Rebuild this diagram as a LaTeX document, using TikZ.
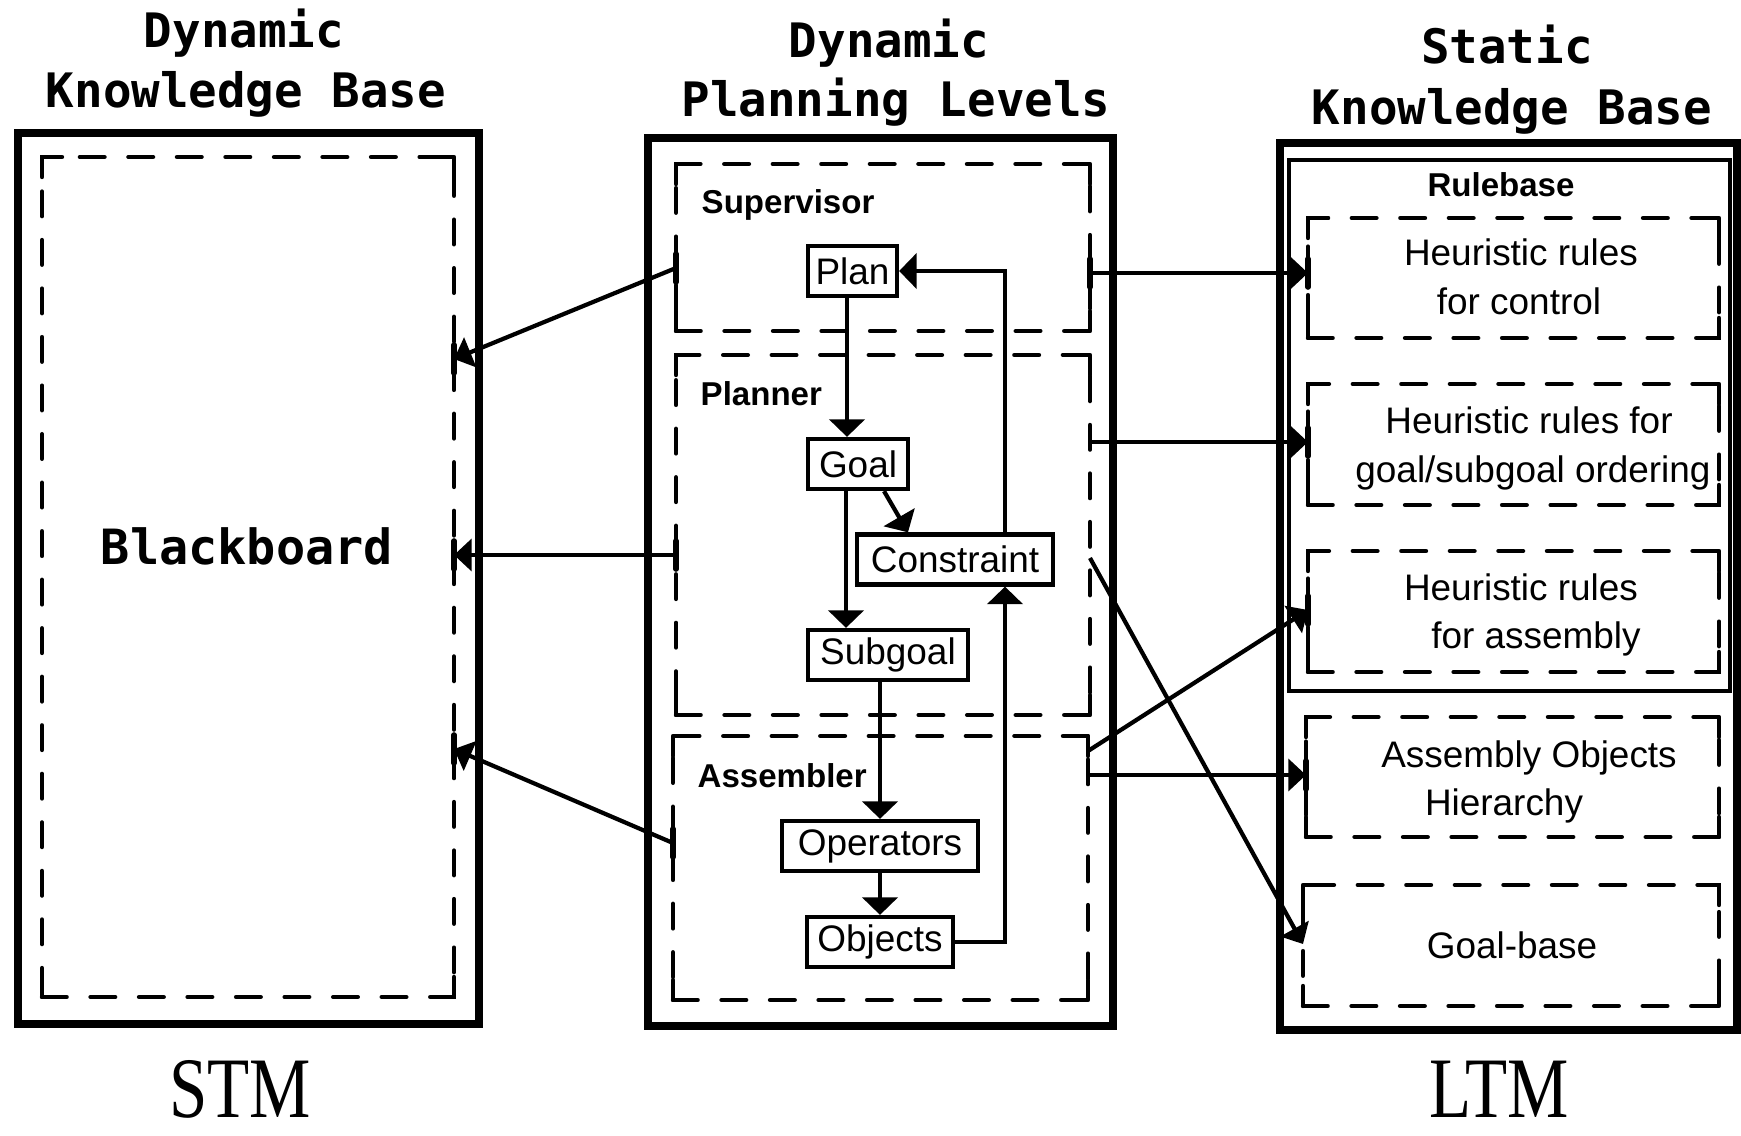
\documentclass[tikz,border=0pt]{standalone}
\usepackage{fontspec}
\setmainfont{Liberation Sans}
\newfontfamily\plotterfont{DejaVu Sans Mono}
\newfontfamily\romanfont{Liberation Serif}
\usetikzlibrary{arrows.meta,fit,calc}

\tikzset{
  outerbox/.style={draw, line width=2pt, inner sep=0pt, outer sep=0pt},
  rulebox/.style={draw, line width=1.1pt, inner sep=0pt, outer sep=0pt},
  dframe/.style={draw, line width=1.25pt, dash pattern=on 7pt off 6.8pt, line cap=round, inner sep=0pt, outer sep=0pt},
  cornerpiece/.style={line width=1.25pt, line cap=round, line join=round},
  ibox/.style={draw, line width=1.2pt, inner sep=0pt, minimum height=0.5cm, font=\fontsize{10.5pt}{12pt}\selectfont},
  titletext/.style={font=\plotterfont\bfseries\fontsize{13.5pt}{16pt}\selectfont, anchor=base, inner sep=0pt},
  lbl/.style={font=\fontsize{10.5pt}{12pt}\selectfont, anchor=base, inner sep=0pt},
  blbl/.style={font=\bfseries\fontsize{9.4pt}{11pt}\selectfont, anchor=base west, inner sep=0pt},
  bigroman/.style={font=\romanfont\fontsize{24.5pt}{28pt}\selectfont, inner sep=0pt},
  iarrow/.style={line width=1.2pt, -{Triangle[width=10pt,length=5pt]}},
  conn/.style={line width=1.2pt, -{Triangle[width=9pt,length=5pt]}},
  tickmark/.style={line width=1.6pt, line cap=round},
}

\newcommand\framecorners[1]{%
  \draw[cornerpiece] ([yshift=-0.2cm]#1.north west) -- (#1.north west) -- ([xshift=0.2cm]#1.north west);
  \draw[cornerpiece] ([xshift=-0.2cm]#1.north east) -- (#1.north east) -- ([yshift=-0.2cm]#1.north east);
  \draw[cornerpiece] ([yshift=0.2cm]#1.south east) -- (#1.south east) -- ([xshift=-0.2cm]#1.south east);
  \draw[cornerpiece] ([xshift=0.2cm]#1.south west) -- (#1.south west) -- ([yshift=0.2cm]#1.south west);
}
\newcommand\vtick[1]{\draw[tickmark] ([yshift=0.14cm]#1) -- ([yshift=-0.14cm]#1);}

\begin{document}
\begin{tikzpicture}[x=0.01cm,y=-0.01cm]
\useasboundingbox (0,0) rectangle (1741,1136);

% titles
\node[titletext] (tla) at (244,47) {Dynamic};
\node[titletext] (tlb) at (246,107) {Knowledge Base};
\node[titletext] (tma) at (889,57) {Dynamic};
\node[titletext] (tmb) at (896,116) {Planning Levels};
\node[titletext] (tra) at (1507,63) {Static};
\node[titletext] (trb) at (1512,124) {Knowledge Base};

% left column
\node[outerbox, fit={(18,133) (479,1024)}] (stmbox) {};
\node[dframe, fit={(42,157) (454,997)}] (bbd) {};
\framecorners{bbd}
\node[titletext, anchor=center, font=\plotterfont\bfseries\fontsize{13.8pt}{16pt}\selectfont] (bb) at (247,546) {Blackboard};
\node[bigroman] (stm) at (240,1089) {\scalebox{0.8}[1]{STM}};

% middle column
\node[outerbox, fit={(648,138) (1113,1026)}] (mid) {};
\node[dframe, fit={(676,164) (1090,331)}] (sup) {};
\framecorners{sup}
\node[dframe, fit={(676,355) (1090,715)}] (pln) {};
\framecorners{pln}
\node[dframe, fit={(673,736) (1088,1000)}] (asm) {};
\framecorners{asm}
\node[blbl] (supl) at (701,213) {Supervisor};
\node[blbl] (plnl) at (700,405) {Planner};
\node[blbl] (asml) at (697,787) {Assembler};

\node[ibox, minimum width=0.89cm] (plan) at (852.5,271) {Plan};
\node[ibox, minimum width=1.0cm] (goal) at (858,464) {Goal};
\node[ibox, minimum width=1.96cm] (con) at (955,559.5) {Constraint};
\node[ibox, minimum width=1.6cm] (subg) at (888,655) {Subgoal};
\node[ibox, minimum width=1.96cm] (ops) at (880,846) {Operators};
\node[ibox, minimum width=1.46cm] (obj) at (880,942) {Objects};

\draw[iarrow] (plan.south -| 847,0) -- (goal.north -| 847,0);
\draw[iarrow] (goal.south -| 846,0) -- (subg.north -| 846,0);
\draw[iarrow] (goal.south -| 884,0) -- (con.north -| 908,0);
\draw[iarrow] (subg.south -| 880,0) -- (ops.north -| 880,0);
\draw[iarrow] (ops.south -| 880,0) -- (obj.north -| 880,0);
\draw[iarrow] (obj.east) -| (con.south -| 1005,0);
\draw[iarrow] (con.north -| 1005,0) |- (plan.east);

% right column
\node[outerbox, fit={(1280,143) (1737,1030)}] (ltmbox) {};
\node[rulebox, fit={(1289,160) (1730,691)}] (rb) {};
\node[blbl, anchor=base] (rbl) at (1501,196) {Rulebase};
\node[dframe, fit={(1308,218) (1719,338)}] (hra) {};
\framecorners{hra}
\node[dframe, fit={(1308,384) (1719,505)}] (hrb) {};
\framecorners{hrb}
\node[dframe, fit={(1308,551) (1719,672)}] (hrc) {};
\framecorners{hrc}
\node[dframe, fit={(1306,717) (1719,837)}] (aoh) {};
\framecorners{aoh}
\node[dframe, fit={(1303,885) (1719,1006)}] (gb) {};
\framecorners{gb}

\node[lbl] (h1a) at (1521,265) {Heuristic rules};
\node[lbl] (h1b) at (1519,314) {for control};
\node[lbl] (h2a) at (1529,433) {Heuristic rules for};
\node[lbl] (h2b) at (1533,482) {goal/subgoal ordering};
\node[lbl] (h3a) at (1521,600) {Heuristic rules};
\node[lbl] (h3b) at (1536,648) {for assembly};
\node[lbl] (aoa) at (1529,767) {Assembly Objects};
\node[lbl] (aob) at (1504,815) {Hierarchy};
\node[lbl] (gbl) at (1512,958) {Goal-base};
\node[bigroman] (ltm) at (1499,1089) {\scalebox{0.8}[1]{LTM}};

% connector end points
\coordinate (l1s) at (sup.west |- 0,268);
\coordinate (l1e) at (bbd.east |- 0,359);
\coordinate (l2s) at (pln.west |- 0,555);
\coordinate (l2e) at (bbd.east |- 0,555);
\coordinate (l3s) at (asm.west |- 0,843);
\coordinate (l3e) at (bbd.east |- 0,749);
\coordinate (r1s) at (sup.east |- 0,273);
\coordinate (r1e) at (hra.west |- 0,273);
\coordinate (r2s) at (pln.east |- 0,442);
\coordinate (r2e) at (hrb.west |- 0,442);
\coordinate (r3s) at (asm.east |- 0,751);
\coordinate (r3e) at (hrc.west |- 0,610);
\coordinate (r4s) at (asm.east |- 0,775);
\coordinate (r4e) at (aoh.west |- 0,775);
\coordinate (r5s) at (pln.east |- 0,558);
\coordinate (r5e) at (gb.west |- 0,944);

% connectors to the blackboard
\draw[conn] (l1s) -- (l1e);
\draw[conn] (l2s) -- (l2e);
\draw[conn] (l3s) -- (l3e);
% connectors to the static knowledge base
\draw[conn] (r1s) -- (r1e);
\draw[conn] (r2s) -- (r2e);
\draw[conn] (r3s) -- (r3e);
\draw[conn] (r4s) -- (r4e);
\draw[conn] (r5s) -- (r5e);

% short vertical bars where connectors meet the dashed frames
\vtick{l1s} \vtick{l1e} \vtick{l2s} \vtick{l2e} \vtick{l3s} \vtick{l3e}
\vtick{r1s} \vtick{r1e} \vtick{r2e} \vtick{r3e} \vtick{r4e}
\end{tikzpicture}
\end{document}
